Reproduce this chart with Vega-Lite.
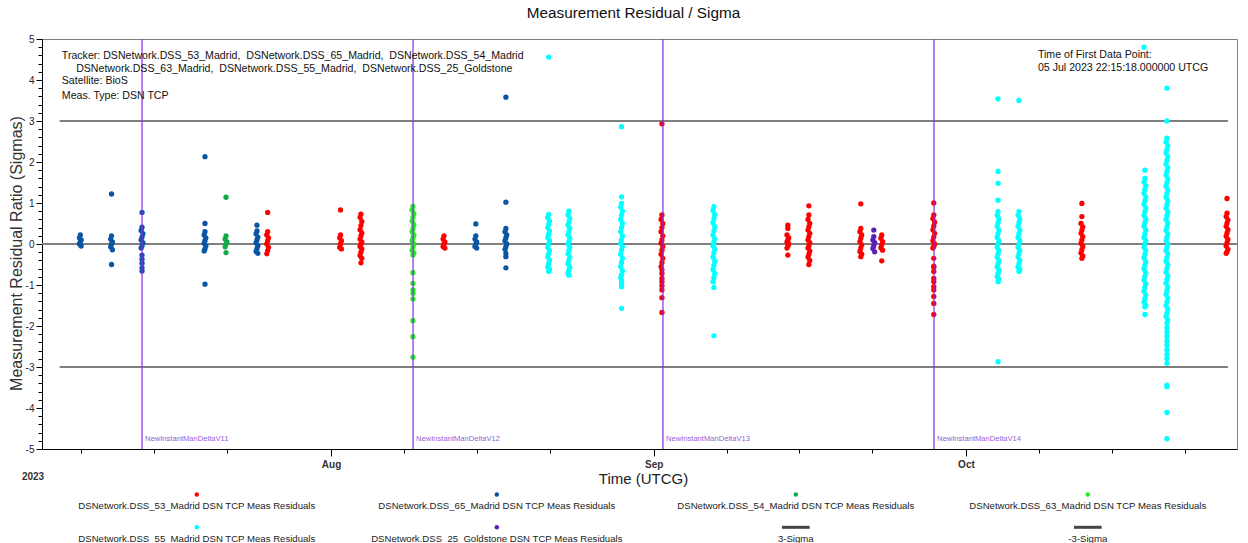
{
"$schema": "https://vega.github.io/schema/vega-lite/v6.json",
"width": 1195, "height": 410,
"autosize": {"type": "none"},
"padding": {"left": 42, "top": 39, "right": 11, "bottom": 94},
"background": "white",
"title": {"text": "Measurement Residual / Sigma", "fontSize": 15.3, "fontWeight": "normal", "color": "#111", "anchor": "middle", "frame": "group", "offset": 13, "dx": -6, "font": "Liberation Sans"},
"datasets": {
"man": [
{"name":"NewInstantManDeltaV11","time":"2023-07-13T20:10Z"},
{"name":"NewInstantManDeltaV12","time":"2023-08-08T21:05Z"},
{"name":"NewInstantManDeltaV13","time":"2023-09-01T21:20Z"},
{"name":"NewInstantManDeltaV14","time":"2023-09-27T22:20Z"}
],
"sigma": [
{"series":"3-Sigma","time":"2023-07-05T22:15:18Z","time2":"2023-10-26T04:00Z","value":3},
{"series":"-3-Sigma","time":"2023-07-05T22:15:18Z","time2":"2023-10-26T04:00Z","value":-3}
],
"pts": [
{"series":"DSS_65_Madrid","time":"2023-07-07T21:50Z","value":0.22},
{"series":"DSS_65_Madrid","time":"2023-07-07T19:50Z","value":0.15},
{"series":"DSS_65_Madrid","time":"2023-07-07T23:50Z","value":0.1},
{"series":"DSS_65_Madrid","time":"2023-07-07T21:50Z","value":0.05},
{"series":"DSS_65_Madrid","time":"2023-07-07T19:50Z","value":0},
{"series":"DSS_65_Madrid","time":"2023-07-07T23:50Z","value":-0.05},
{"series":"DSS_65_Madrid","time":"2023-07-10T21:50Z","value":1.22},
{"series":"DSS_65_Madrid","time":"2023-07-10T21:50Z","value":0.2},
{"series":"DSS_65_Madrid","time":"2023-07-10T19:50Z","value":0.12},
{"series":"DSS_65_Madrid","time":"2023-07-10T23:50Z","value":0.05},
{"series":"DSS_65_Madrid","time":"2023-07-10T21:50Z","value":0},
{"series":"DSS_65_Madrid","time":"2023-07-10T19:50Z","value":-0.07},
{"series":"DSS_65_Madrid","time":"2023-07-10T23:50Z","value":-0.14},
{"series":"DSS_65_Madrid","time":"2023-07-10T21:50Z","value":-0.5},
{"series":"DSS_65_Madrid","time":"2023-07-13T20:10Z","value":0.77},
{"series":"DSS_65_Madrid","time":"2023-07-13T20:10Z","value":0.41},
{"series":"DSS_65_Madrid","time":"2023-07-13T18:10Z","value":0.33},
{"series":"DSS_65_Madrid","time":"2023-07-13T22:10Z","value":0.25},
{"series":"DSS_65_Madrid","time":"2023-07-13T20:10Z","value":0.17},
{"series":"DSS_65_Madrid","time":"2023-07-13T18:10Z","value":0.1},
{"series":"DSS_65_Madrid","time":"2023-07-13T22:10Z","value":0.03},
{"series":"DSS_65_Madrid","time":"2023-07-13T20:10Z","value":-0.04},
{"series":"DSS_65_Madrid","time":"2023-07-13T18:10Z","value":-0.1},
{"series":"DSS_65_Madrid","time":"2023-07-13T20:10Z","value":-0.27},
{"series":"DSS_65_Madrid","time":"2023-07-13T20:10Z","value":-0.37},
{"series":"DSS_65_Madrid","time":"2023-07-13T20:10Z","value":-0.47},
{"series":"DSS_65_Madrid","time":"2023-07-13T20:10Z","value":-0.58},
{"series":"DSS_65_Madrid","time":"2023-07-13T20:10Z","value":-0.66},
{"series":"DSS_65_Madrid","time":"2023-07-19T21:20Z","value":2.13},
{"series":"DSS_65_Madrid","time":"2023-07-19T21:20Z","value":0.5},
{"series":"DSS_65_Madrid","time":"2023-07-19T21:20Z","value":0.3},
{"series":"DSS_65_Madrid","time":"2023-07-19T19:20Z","value":0.22},
{"series":"DSS_65_Madrid","time":"2023-07-19T23:20Z","value":0.15},
{"series":"DSS_65_Madrid","time":"2023-07-19T21:20Z","value":0.08},
{"series":"DSS_65_Madrid","time":"2023-07-19T19:20Z","value":0.02},
{"series":"DSS_65_Madrid","time":"2023-07-19T23:20Z","value":-0.05},
{"series":"DSS_65_Madrid","time":"2023-07-19T21:20Z","value":-0.12},
{"series":"DSS_65_Madrid","time":"2023-07-19T19:20Z","value":-0.17},
{"series":"DSS_65_Madrid","time":"2023-07-19T21:20Z","value":-0.98},
{"series":"DSS_54_Madrid","time":"2023-07-21T21:50Z","value":1.14},
{"series":"DSS_54_Madrid","time":"2023-07-21T21:50Z","value":0.2},
{"series":"DSS_54_Madrid","time":"2023-07-21T19:50Z","value":0.12},
{"series":"DSS_54_Madrid","time":"2023-07-21T23:50Z","value":0.05},
{"series":"DSS_54_Madrid","time":"2023-07-21T21:50Z","value":0},
{"series":"DSS_54_Madrid","time":"2023-07-21T19:50Z","value":-0.07},
{"series":"DSS_54_Madrid","time":"2023-07-21T21:50Z","value":-0.21},
{"series":"DSS_65_Madrid","time":"2023-07-24T21:10Z","value":0.46},
{"series":"DSS_65_Madrid","time":"2023-07-24T21:10Z","value":0.32},
{"series":"DSS_65_Madrid","time":"2023-07-24T19:10Z","value":0.25},
{"series":"DSS_65_Madrid","time":"2023-07-24T23:10Z","value":0.17},
{"series":"DSS_65_Madrid","time":"2023-07-24T21:10Z","value":0.1},
{"series":"DSS_65_Madrid","time":"2023-07-24T19:10Z","value":0.03},
{"series":"DSS_65_Madrid","time":"2023-07-24T23:10Z","value":-0.04},
{"series":"DSS_65_Madrid","time":"2023-07-24T21:10Z","value":-0.11},
{"series":"DSS_65_Madrid","time":"2023-07-24T19:10Z","value":-0.18},
{"series":"DSS_65_Madrid","time":"2023-07-24T23:10Z","value":-0.23},
{"series":"DSS_53_Madrid","time":"2023-07-25T21:50Z","value":0.77},
{"series":"DSS_53_Madrid","time":"2023-07-25T21:50Z","value":0.3},
{"series":"DSS_53_Madrid","time":"2023-07-25T19:50Z","value":0.22},
{"series":"DSS_53_Madrid","time":"2023-07-25T23:50Z","value":0.15},
{"series":"DSS_53_Madrid","time":"2023-07-25T21:50Z","value":0.08},
{"series":"DSS_53_Madrid","time":"2023-07-25T19:50Z","value":0},
{"series":"DSS_53_Madrid","time":"2023-07-25T23:50Z","value":-0.08},
{"series":"DSS_53_Madrid","time":"2023-07-25T21:50Z","value":-0.16},
{"series":"DSS_53_Madrid","time":"2023-07-25T19:50Z","value":-0.24},
{"series":"DSS_53_Madrid","time":"2023-08-01T21:50Z","value":0.83},
{"series":"DSS_53_Madrid","time":"2023-08-01T21:50Z","value":0.22},
{"series":"DSS_53_Madrid","time":"2023-08-01T19:50Z","value":0.15},
{"series":"DSS_53_Madrid","time":"2023-08-01T23:50Z","value":0.08},
{"series":"DSS_53_Madrid","time":"2023-08-01T21:50Z","value":0},
{"series":"DSS_53_Madrid","time":"2023-08-01T19:50Z","value":-0.08},
{"series":"DSS_53_Madrid","time":"2023-08-01T23:50Z","value":-0.12},
{"series":"DSS_53_Madrid","time":"2023-08-03T20:55Z","value":0.73},
{"series":"DSS_53_Madrid","time":"2023-08-03T18:55Z","value":0.65},
{"series":"DSS_53_Madrid","time":"2023-08-03T22:55Z","value":0.55},
{"series":"DSS_53_Madrid","time":"2023-08-03T20:55Z","value":0.45},
{"series":"DSS_53_Madrid","time":"2023-08-03T18:55Z","value":0.35},
{"series":"DSS_53_Madrid","time":"2023-08-03T22:55Z","value":0.27},
{"series":"DSS_53_Madrid","time":"2023-08-03T20:55Z","value":0.2},
{"series":"DSS_53_Madrid","time":"2023-08-03T18:55Z","value":0.12},
{"series":"DSS_53_Madrid","time":"2023-08-03T22:55Z","value":0.05},
{"series":"DSS_53_Madrid","time":"2023-08-03T20:55Z","value":0},
{"series":"DSS_53_Madrid","time":"2023-08-03T18:55Z","value":-0.06},
{"series":"DSS_53_Madrid","time":"2023-08-03T22:55Z","value":-0.12},
{"series":"DSS_53_Madrid","time":"2023-08-03T20:55Z","value":-0.2},
{"series":"DSS_53_Madrid","time":"2023-08-03T18:55Z","value":-0.28},
{"series":"DSS_53_Madrid","time":"2023-08-03T22:55Z","value":-0.35},
{"series":"DSS_53_Madrid","time":"2023-08-03T20:55Z","value":-0.46},
{"series":"DSS_63_Madrid","time":"2023-08-08T20:55Z","value":0.92},
{"series":"DSS_63_Madrid","time":"2023-08-08T18:55Z","value":0.83},
{"series":"DSS_63_Madrid","time":"2023-08-08T22:55Z","value":0.74},
{"series":"DSS_63_Madrid","time":"2023-08-08T20:55Z","value":0.65},
{"series":"DSS_63_Madrid","time":"2023-08-08T18:55Z","value":0.56},
{"series":"DSS_63_Madrid","time":"2023-08-08T22:55Z","value":0.47},
{"series":"DSS_63_Madrid","time":"2023-08-08T20:55Z","value":0.38},
{"series":"DSS_63_Madrid","time":"2023-08-08T18:55Z","value":0.3},
{"series":"DSS_63_Madrid","time":"2023-08-08T22:55Z","value":0.22},
{"series":"DSS_63_Madrid","time":"2023-08-08T20:55Z","value":0.15},
{"series":"DSS_63_Madrid","time":"2023-08-08T18:55Z","value":0.08},
{"series":"DSS_63_Madrid","time":"2023-08-08T22:55Z","value":0},
{"series":"DSS_63_Madrid","time":"2023-08-08T20:55Z","value":-0.07},
{"series":"DSS_63_Madrid","time":"2023-08-08T18:55Z","value":-0.15},
{"series":"DSS_63_Madrid","time":"2023-08-08T22:55Z","value":-0.22},
{"series":"DSS_63_Madrid","time":"2023-08-08T20:55Z","value":-0.27},
{"series":"DSS_63_Madrid","time":"2023-08-08T20:55Z","value":-0.7},
{"series":"DSS_63_Madrid","time":"2023-08-08T20:55Z","value":-0.96},
{"series":"DSS_63_Madrid","time":"2023-08-08T20:55Z","value":-1.12},
{"series":"DSS_63_Madrid","time":"2023-08-08T20:55Z","value":-1.2},
{"series":"DSS_63_Madrid","time":"2023-08-08T20:55Z","value":-1.34},
{"series":"DSS_63_Madrid","time":"2023-08-08T20:55Z","value":-1.87},
{"series":"DSS_63_Madrid","time":"2023-08-08T20:55Z","value":-2.26},
{"series":"DSS_63_Madrid","time":"2023-08-08T20:55Z","value":-2.76},
{"series":"DSS_53_Madrid","time":"2023-08-11T20:25Z","value":0.2},
{"series":"DSS_53_Madrid","time":"2023-08-11T18:25Z","value":0.12},
{"series":"DSS_53_Madrid","time":"2023-08-11T22:25Z","value":0.05},
{"series":"DSS_53_Madrid","time":"2023-08-11T20:25Z","value":0},
{"series":"DSS_53_Madrid","time":"2023-08-11T18:25Z","value":-0.06},
{"series":"DSS_53_Madrid","time":"2023-08-11T22:25Z","value":-0.1},
{"series":"DSS_65_Madrid","time":"2023-08-14T21:50Z","value":0.49},
{"series":"DSS_65_Madrid","time":"2023-08-14T21:50Z","value":0.2},
{"series":"DSS_65_Madrid","time":"2023-08-14T19:50Z","value":0.12},
{"series":"DSS_65_Madrid","time":"2023-08-14T23:50Z","value":0.05},
{"series":"DSS_65_Madrid","time":"2023-08-14T21:50Z","value":0},
{"series":"DSS_65_Madrid","time":"2023-08-14T19:50Z","value":-0.06},
{"series":"DSS_65_Madrid","time":"2023-08-14T23:50Z","value":-0.1},
{"series":"DSS_65_Madrid","time":"2023-08-17T19:10Z","value":3.58},
{"series":"DSS_65_Madrid","time":"2023-08-17T19:10Z","value":1.02},
{"series":"DSS_65_Madrid","time":"2023-08-17T19:10Z","value":0.38},
{"series":"DSS_65_Madrid","time":"2023-08-17T17:10Z","value":0.3},
{"series":"DSS_65_Madrid","time":"2023-08-17T21:10Z","value":0.22},
{"series":"DSS_65_Madrid","time":"2023-08-17T19:10Z","value":0.15},
{"series":"DSS_65_Madrid","time":"2023-08-17T17:10Z","value":0.08},
{"series":"DSS_65_Madrid","time":"2023-08-17T21:10Z","value":0},
{"series":"DSS_65_Madrid","time":"2023-08-17T19:10Z","value":-0.07},
{"series":"DSS_65_Madrid","time":"2023-08-17T17:10Z","value":-0.13},
{"series":"DSS_65_Madrid","time":"2023-08-17T19:10Z","value":-0.23},
{"series":"DSS_65_Madrid","time":"2023-08-17T19:10Z","value":-0.31},
{"series":"DSS_65_Madrid","time":"2023-08-17T19:10Z","value":-0.58},
{"series":"DSS_55_Madrid","time":"2023-08-21T21:50Z","value":4.56},
{"series":"DSS_55_Madrid","time":"2023-08-21T21:50Z","value":0.72},
{"series":"DSS_55_Madrid","time":"2023-08-21T19:50Z","value":0.64},
{"series":"DSS_55_Madrid","time":"2023-08-21T23:50Z","value":0.56},
{"series":"DSS_55_Madrid","time":"2023-08-21T21:50Z","value":0.48},
{"series":"DSS_55_Madrid","time":"2023-08-21T19:50Z","value":0.4},
{"series":"DSS_55_Madrid","time":"2023-08-21T23:50Z","value":0.32},
{"series":"DSS_55_Madrid","time":"2023-08-21T21:50Z","value":0.24},
{"series":"DSS_55_Madrid","time":"2023-08-21T19:50Z","value":0.16},
{"series":"DSS_55_Madrid","time":"2023-08-21T23:50Z","value":0.08},
{"series":"DSS_55_Madrid","time":"2023-08-21T21:50Z","value":0},
{"series":"DSS_55_Madrid","time":"2023-08-21T19:50Z","value":-0.08},
{"series":"DSS_55_Madrid","time":"2023-08-21T23:50Z","value":-0.16},
{"series":"DSS_55_Madrid","time":"2023-08-21T21:50Z","value":-0.24},
{"series":"DSS_55_Madrid","time":"2023-08-21T19:50Z","value":-0.32},
{"series":"DSS_55_Madrid","time":"2023-08-21T23:50Z","value":-0.4},
{"series":"DSS_55_Madrid","time":"2023-08-21T21:50Z","value":-0.48},
{"series":"DSS_55_Madrid","time":"2023-08-21T19:50Z","value":-0.56},
{"series":"DSS_55_Madrid","time":"2023-08-21T23:50Z","value":-0.62},
{"series":"DSS_55_Madrid","time":"2023-08-21T21:50Z","value":-0.67},
{"series":"DSS_55_Madrid","time":"2023-08-23T20:25Z","value":0.8},
{"series":"DSS_55_Madrid","time":"2023-08-23T18:25Z","value":0.71},
{"series":"DSS_55_Madrid","time":"2023-08-23T22:25Z","value":0.62},
{"series":"DSS_55_Madrid","time":"2023-08-23T20:25Z","value":0.54},
{"series":"DSS_55_Madrid","time":"2023-08-23T18:25Z","value":0.46},
{"series":"DSS_55_Madrid","time":"2023-08-23T22:25Z","value":0.38},
{"series":"DSS_55_Madrid","time":"2023-08-23T20:25Z","value":0.3},
{"series":"DSS_55_Madrid","time":"2023-08-23T18:25Z","value":0.22},
{"series":"DSS_55_Madrid","time":"2023-08-23T22:25Z","value":0.14},
{"series":"DSS_55_Madrid","time":"2023-08-23T20:25Z","value":0.06},
{"series":"DSS_55_Madrid","time":"2023-08-23T18:25Z","value":0},
{"series":"DSS_55_Madrid","time":"2023-08-23T22:25Z","value":-0.08},
{"series":"DSS_55_Madrid","time":"2023-08-23T20:25Z","value":-0.16},
{"series":"DSS_55_Madrid","time":"2023-08-23T18:25Z","value":-0.24},
{"series":"DSS_55_Madrid","time":"2023-08-23T22:25Z","value":-0.32},
{"series":"DSS_55_Madrid","time":"2023-08-23T20:25Z","value":-0.4},
{"series":"DSS_55_Madrid","time":"2023-08-23T18:25Z","value":-0.48},
{"series":"DSS_55_Madrid","time":"2023-08-23T22:25Z","value":-0.56},
{"series":"DSS_55_Madrid","time":"2023-08-23T20:25Z","value":-0.64},
{"series":"DSS_55_Madrid","time":"2023-08-23T18:25Z","value":-0.72},
{"series":"DSS_55_Madrid","time":"2023-08-23T20:25Z","value":-0.76},
{"series":"DSS_55_Madrid","time":"2023-08-28T21:50Z","value":2.86},
{"series":"DSS_55_Madrid","time":"2023-08-28T21:50Z","value":1.15},
{"series":"DSS_55_Madrid","time":"2023-08-28T21:50Z","value":0.99},
{"series":"DSS_55_Madrid","time":"2023-08-28T19:50Z","value":0.9},
{"series":"DSS_55_Madrid","time":"2023-08-28T23:50Z","value":0.8},
{"series":"DSS_55_Madrid","time":"2023-08-28T21:50Z","value":0.7},
{"series":"DSS_55_Madrid","time":"2023-08-28T19:50Z","value":0.6},
{"series":"DSS_55_Madrid","time":"2023-08-28T23:50Z","value":0.5},
{"series":"DSS_55_Madrid","time":"2023-08-28T21:50Z","value":0.4},
{"series":"DSS_55_Madrid","time":"2023-08-28T19:50Z","value":0.3},
{"series":"DSS_55_Madrid","time":"2023-08-28T23:50Z","value":0.2},
{"series":"DSS_55_Madrid","time":"2023-08-28T21:50Z","value":0.1},
{"series":"DSS_55_Madrid","time":"2023-08-28T19:50Z","value":0.02},
{"series":"DSS_55_Madrid","time":"2023-08-28T23:50Z","value":-0.06},
{"series":"DSS_55_Madrid","time":"2023-08-28T21:50Z","value":-0.15},
{"series":"DSS_55_Madrid","time":"2023-08-28T19:50Z","value":-0.25},
{"series":"DSS_55_Madrid","time":"2023-08-28T23:50Z","value":-0.35},
{"series":"DSS_55_Madrid","time":"2023-08-28T21:50Z","value":-0.45},
{"series":"DSS_55_Madrid","time":"2023-08-28T19:50Z","value":-0.55},
{"series":"DSS_55_Madrid","time":"2023-08-28T23:50Z","value":-0.65},
{"series":"DSS_55_Madrid","time":"2023-08-28T21:50Z","value":-0.75},
{"series":"DSS_55_Madrid","time":"2023-08-28T19:50Z","value":-0.82},
{"series":"DSS_55_Madrid","time":"2023-08-28T21:50Z","value":-0.88},
{"series":"DSS_55_Madrid","time":"2023-08-28T21:50Z","value":-0.95},
{"series":"DSS_55_Madrid","time":"2023-08-28T21:50Z","value":-1.04},
{"series":"DSS_55_Madrid","time":"2023-08-28T21:50Z","value":-1.57},
{"series":"DSS_53_Madrid","time":"2023-09-01T19:00Z","value":2.93},
{"series":"DSS_53_Madrid","time":"2023-09-01T19:00Z","value":0.71},
{"series":"DSS_53_Madrid","time":"2023-09-01T17:00Z","value":0.6},
{"series":"DSS_53_Madrid","time":"2023-09-01T21:00Z","value":0.5},
{"series":"DSS_53_Madrid","time":"2023-09-01T19:00Z","value":0.4},
{"series":"DSS_53_Madrid","time":"2023-09-01T17:00Z","value":0.3},
{"series":"DSS_53_Madrid","time":"2023-09-01T21:00Z","value":0.2},
{"series":"DSS_53_Madrid","time":"2023-09-01T19:00Z","value":0.1},
{"series":"DSS_53_Madrid","time":"2023-09-01T17:00Z","value":0.02},
{"series":"DSS_53_Madrid","time":"2023-09-01T21:00Z","value":-0.06},
{"series":"DSS_53_Madrid","time":"2023-09-01T19:00Z","value":-0.15},
{"series":"DSS_53_Madrid","time":"2023-09-01T17:00Z","value":-0.25},
{"series":"DSS_53_Madrid","time":"2023-09-01T21:00Z","value":-0.35},
{"series":"DSS_53_Madrid","time":"2023-09-01T19:00Z","value":-0.45},
{"series":"DSS_53_Madrid","time":"2023-09-01T17:00Z","value":-0.55},
{"series":"DSS_53_Madrid","time":"2023-09-01T19:00Z","value":-0.63},
{"series":"DSS_53_Madrid","time":"2023-09-01T19:00Z","value":-0.72},
{"series":"DSS_53_Madrid","time":"2023-09-01T19:00Z","value":-0.84},
{"series":"DSS_53_Madrid","time":"2023-09-01T19:00Z","value":-0.92},
{"series":"DSS_53_Madrid","time":"2023-09-01T19:00Z","value":-1.02},
{"series":"DSS_53_Madrid","time":"2023-09-01T19:00Z","value":-1.12},
{"series":"DSS_53_Madrid","time":"2023-09-01T19:00Z","value":-1.31},
{"series":"DSS_53_Madrid","time":"2023-09-01T19:00Z","value":-1.67},
{"series":"DSS_55_Madrid","time":"2023-09-06T18:45Z","value":0.91},
{"series":"DSS_55_Madrid","time":"2023-09-06T16:45Z","value":0.82},
{"series":"DSS_55_Madrid","time":"2023-09-06T20:45Z","value":0.72},
{"series":"DSS_55_Madrid","time":"2023-09-06T18:45Z","value":0.62},
{"series":"DSS_55_Madrid","time":"2023-09-06T16:45Z","value":0.52},
{"series":"DSS_55_Madrid","time":"2023-09-06T20:45Z","value":0.42},
{"series":"DSS_55_Madrid","time":"2023-09-06T18:45Z","value":0.32},
{"series":"DSS_55_Madrid","time":"2023-09-06T16:45Z","value":0.22},
{"series":"DSS_55_Madrid","time":"2023-09-06T20:45Z","value":0.12},
{"series":"DSS_55_Madrid","time":"2023-09-06T18:45Z","value":0.04},
{"series":"DSS_55_Madrid","time":"2023-09-06T16:45Z","value":-0.04},
{"series":"DSS_55_Madrid","time":"2023-09-06T20:45Z","value":-0.12},
{"series":"DSS_55_Madrid","time":"2023-09-06T18:45Z","value":-0.22},
{"series":"DSS_55_Madrid","time":"2023-09-06T16:45Z","value":-0.32},
{"series":"DSS_55_Madrid","time":"2023-09-06T20:45Z","value":-0.42},
{"series":"DSS_55_Madrid","time":"2023-09-06T18:45Z","value":-0.52},
{"series":"DSS_55_Madrid","time":"2023-09-06T16:45Z","value":-0.62},
{"series":"DSS_55_Madrid","time":"2023-09-06T20:45Z","value":-0.72},
{"series":"DSS_55_Madrid","time":"2023-09-06T18:45Z","value":-0.82},
{"series":"DSS_55_Madrid","time":"2023-09-06T16:45Z","value":-0.92},
{"series":"DSS_55_Madrid","time":"2023-09-06T18:45Z","value":-1.06},
{"series":"DSS_55_Madrid","time":"2023-09-06T18:45Z","value":-2.24},
{"series":"DSS_53_Madrid","time":"2023-09-13T21:20Z","value":0.46},
{"series":"DSS_53_Madrid","time":"2023-09-13T21:20Z","value":0.38},
{"series":"DSS_53_Madrid","time":"2023-09-13T19:20Z","value":0.22},
{"series":"DSS_53_Madrid","time":"2023-09-13T23:20Z","value":0.15},
{"series":"DSS_53_Madrid","time":"2023-09-13T21:20Z","value":0.1},
{"series":"DSS_53_Madrid","time":"2023-09-13T19:20Z","value":0.05},
{"series":"DSS_53_Madrid","time":"2023-09-13T23:20Z","value":0},
{"series":"DSS_53_Madrid","time":"2023-09-13T21:20Z","value":-0.05},
{"series":"DSS_53_Madrid","time":"2023-09-13T19:20Z","value":-0.1},
{"series":"DSS_53_Madrid","time":"2023-09-13T21:20Z","value":-0.27},
{"series":"DSS_53_Madrid","time":"2023-09-15T21:50Z","value":0.93},
{"series":"DSS_53_Madrid","time":"2023-09-15T21:50Z","value":0.71},
{"series":"DSS_53_Madrid","time":"2023-09-15T19:50Z","value":0.6},
{"series":"DSS_53_Madrid","time":"2023-09-15T23:50Z","value":0.5},
{"series":"DSS_53_Madrid","time":"2023-09-15T21:50Z","value":0.42},
{"series":"DSS_53_Madrid","time":"2023-09-15T19:50Z","value":0.34},
{"series":"DSS_53_Madrid","time":"2023-09-15T23:50Z","value":0.26},
{"series":"DSS_53_Madrid","time":"2023-09-15T21:50Z","value":0.18},
{"series":"DSS_53_Madrid","time":"2023-09-15T19:50Z","value":0.1},
{"series":"DSS_53_Madrid","time":"2023-09-15T23:50Z","value":0.03},
{"series":"DSS_53_Madrid","time":"2023-09-15T21:50Z","value":-0.04},
{"series":"DSS_53_Madrid","time":"2023-09-15T19:50Z","value":-0.1},
{"series":"DSS_53_Madrid","time":"2023-09-15T23:50Z","value":-0.17},
{"series":"DSS_53_Madrid","time":"2023-09-15T21:50Z","value":-0.25},
{"series":"DSS_53_Madrid","time":"2023-09-15T19:50Z","value":-0.32},
{"series":"DSS_53_Madrid","time":"2023-09-15T23:50Z","value":-0.4},
{"series":"DSS_53_Madrid","time":"2023-09-15T21:50Z","value":-0.5},
{"series":"DSS_53_Madrid","time":"2023-09-20T21:35Z","value":0.98},
{"series":"DSS_53_Madrid","time":"2023-09-20T21:35Z","value":0.38},
{"series":"DSS_53_Madrid","time":"2023-09-20T19:35Z","value":0.3},
{"series":"DSS_53_Madrid","time":"2023-09-20T23:35Z","value":0.22},
{"series":"DSS_53_Madrid","time":"2023-09-20T21:35Z","value":0.14},
{"series":"DSS_53_Madrid","time":"2023-09-20T19:35Z","value":0.06},
{"series":"DSS_53_Madrid","time":"2023-09-20T23:35Z","value":-0.02},
{"series":"DSS_53_Madrid","time":"2023-09-20T21:35Z","value":-0.1},
{"series":"DSS_53_Madrid","time":"2023-09-20T19:35Z","value":-0.18},
{"series":"DSS_53_Madrid","time":"2023-09-20T23:35Z","value":-0.25},
{"series":"DSS_53_Madrid","time":"2023-09-20T21:35Z","value":-0.31},
{"series":"DSS_25_Goldstone","time":"2023-09-22T03:30Z","value":0.34},
{"series":"DSS_25_Goldstone","time":"2023-09-22T03:30Z","value":0.18},
{"series":"DSS_25_Goldstone","time":"2023-09-22T01:30Z","value":0.1},
{"series":"DSS_25_Goldstone","time":"2023-09-22T05:30Z","value":0.03},
{"series":"DSS_25_Goldstone","time":"2023-09-22T03:30Z","value":-0.04},
{"series":"DSS_25_Goldstone","time":"2023-09-22T01:30Z","value":-0.11},
{"series":"DSS_25_Goldstone","time":"2023-09-22T05:30Z","value":-0.19},
{"series":"DSS_53_Madrid","time":"2023-09-22T21:50Z","value":0.22},
{"series":"DSS_53_Madrid","time":"2023-09-22T19:50Z","value":0.14},
{"series":"DSS_53_Madrid","time":"2023-09-22T23:50Z","value":0.06},
{"series":"DSS_53_Madrid","time":"2023-09-22T21:50Z","value":-0.02},
{"series":"DSS_53_Madrid","time":"2023-09-22T19:50Z","value":-0.09},
{"series":"DSS_53_Madrid","time":"2023-09-22T23:50Z","value":-0.15},
{"series":"DSS_53_Madrid","time":"2023-09-22T21:50Z","value":-0.41},
{"series":"DSS_53_Madrid","time":"2023-09-27T21:50Z","value":1.0},
{"series":"DSS_53_Madrid","time":"2023-09-27T21:50Z","value":0.71},
{"series":"DSS_53_Madrid","time":"2023-09-27T19:50Z","value":0.62},
{"series":"DSS_53_Madrid","time":"2023-09-27T23:50Z","value":0.53},
{"series":"DSS_53_Madrid","time":"2023-09-27T21:50Z","value":0.44},
{"series":"DSS_53_Madrid","time":"2023-09-27T19:50Z","value":0.35},
{"series":"DSS_53_Madrid","time":"2023-09-27T23:50Z","value":0.26},
{"series":"DSS_53_Madrid","time":"2023-09-27T21:50Z","value":0.17},
{"series":"DSS_53_Madrid","time":"2023-09-27T19:50Z","value":0.08},
{"series":"DSS_53_Madrid","time":"2023-09-27T23:50Z","value":0},
{"series":"DSS_53_Madrid","time":"2023-09-27T21:50Z","value":-0.06},
{"series":"DSS_53_Madrid","time":"2023-09-27T19:50Z","value":-0.1},
{"series":"DSS_53_Madrid","time":"2023-09-27T21:50Z","value":-0.35},
{"series":"DSS_53_Madrid","time":"2023-09-27T21:50Z","value":-0.54},
{"series":"DSS_53_Madrid","time":"2023-09-27T21:50Z","value":-0.57},
{"series":"DSS_53_Madrid","time":"2023-09-27T21:50Z","value":-0.67},
{"series":"DSS_53_Madrid","time":"2023-09-27T21:50Z","value":-0.84},
{"series":"DSS_53_Madrid","time":"2023-09-27T21:50Z","value":-0.92},
{"series":"DSS_53_Madrid","time":"2023-09-27T21:50Z","value":-1.04},
{"series":"DSS_53_Madrid","time":"2023-09-27T21:50Z","value":-1.12},
{"series":"DSS_53_Madrid","time":"2023-09-27T21:50Z","value":-1.28},
{"series":"DSS_53_Madrid","time":"2023-09-27T21:50Z","value":-1.45},
{"series":"DSS_53_Madrid","time":"2023-09-27T21:50Z","value":-1.72},
{"series":"DSS_55_Madrid","time":"2023-10-04T02:00Z","value":3.54},
{"series":"DSS_55_Madrid","time":"2023-10-04T02:00Z","value":1.77},
{"series":"DSS_55_Madrid","time":"2023-10-04T02:00Z","value":1.48},
{"series":"DSS_55_Madrid","time":"2023-10-04T02:00Z","value":1.07},
{"series":"DSS_55_Madrid","time":"2023-10-04T02:00Z","value":0.79},
{"series":"DSS_55_Madrid","time":"2023-10-04T00:00Z","value":0.7},
{"series":"DSS_55_Madrid","time":"2023-10-04T04:00Z","value":0.61},
{"series":"DSS_55_Madrid","time":"2023-10-04T02:00Z","value":0.52},
{"series":"DSS_55_Madrid","time":"2023-10-04T00:00Z","value":0.43},
{"series":"DSS_55_Madrid","time":"2023-10-04T04:00Z","value":0.34},
{"series":"DSS_55_Madrid","time":"2023-10-04T02:00Z","value":0.25},
{"series":"DSS_55_Madrid","time":"2023-10-04T00:00Z","value":0.16},
{"series":"DSS_55_Madrid","time":"2023-10-04T04:00Z","value":0.08},
{"series":"DSS_55_Madrid","time":"2023-10-04T02:00Z","value":0},
{"series":"DSS_55_Madrid","time":"2023-10-04T00:00Z","value":-0.08},
{"series":"DSS_55_Madrid","time":"2023-10-04T04:00Z","value":-0.16},
{"series":"DSS_55_Madrid","time":"2023-10-04T02:00Z","value":-0.24},
{"series":"DSS_55_Madrid","time":"2023-10-04T00:00Z","value":-0.32},
{"series":"DSS_55_Madrid","time":"2023-10-04T04:00Z","value":-0.4},
{"series":"DSS_55_Madrid","time":"2023-10-04T02:00Z","value":-0.48},
{"series":"DSS_55_Madrid","time":"2023-10-04T00:00Z","value":-0.56},
{"series":"DSS_55_Madrid","time":"2023-10-04T04:00Z","value":-0.64},
{"series":"DSS_55_Madrid","time":"2023-10-04T02:00Z","value":-0.72},
{"series":"DSS_55_Madrid","time":"2023-10-04T00:00Z","value":-0.8},
{"series":"DSS_55_Madrid","time":"2023-10-04T04:00Z","value":-0.86},
{"series":"DSS_55_Madrid","time":"2023-10-04T02:00Z","value":-0.92},
{"series":"DSS_55_Madrid","time":"2023-10-04T02:00Z","value":-2.87},
{"series":"DSS_55_Madrid","time":"2023-10-06T02:10Z","value":3.5},
{"series":"DSS_55_Madrid","time":"2023-10-06T02:10Z","value":0.79},
{"series":"DSS_55_Madrid","time":"2023-10-06T00:10Z","value":0.7},
{"series":"DSS_55_Madrid","time":"2023-10-06T04:10Z","value":0.61},
{"series":"DSS_55_Madrid","time":"2023-10-06T02:10Z","value":0.52},
{"series":"DSS_55_Madrid","time":"2023-10-06T00:10Z","value":0.43},
{"series":"DSS_55_Madrid","time":"2023-10-06T04:10Z","value":0.34},
{"series":"DSS_55_Madrid","time":"2023-10-06T02:10Z","value":0.25},
{"series":"DSS_55_Madrid","time":"2023-10-06T00:10Z","value":0.16},
{"series":"DSS_55_Madrid","time":"2023-10-06T04:10Z","value":0.08},
{"series":"DSS_55_Madrid","time":"2023-10-06T02:10Z","value":0},
{"series":"DSS_55_Madrid","time":"2023-10-06T00:10Z","value":-0.08},
{"series":"DSS_55_Madrid","time":"2023-10-06T04:10Z","value":-0.16},
{"series":"DSS_55_Madrid","time":"2023-10-06T02:10Z","value":-0.24},
{"series":"DSS_55_Madrid","time":"2023-10-06T00:10Z","value":-0.32},
{"series":"DSS_55_Madrid","time":"2023-10-06T04:10Z","value":-0.4},
{"series":"DSS_55_Madrid","time":"2023-10-06T02:10Z","value":-0.48},
{"series":"DSS_55_Madrid","time":"2023-10-06T00:10Z","value":-0.56},
{"series":"DSS_55_Madrid","time":"2023-10-06T04:10Z","value":-0.62},
{"series":"DSS_55_Madrid","time":"2023-10-06T02:10Z","value":-0.67},
{"series":"DSS_53_Madrid","time":"2023-10-12T03:20Z","value":0.99},
{"series":"DSS_53_Madrid","time":"2023-10-12T03:20Z","value":0.67},
{"series":"DSS_53_Madrid","time":"2023-10-12T01:20Z","value":0.5},
{"series":"DSS_53_Madrid","time":"2023-10-12T05:20Z","value":0.42},
{"series":"DSS_53_Madrid","time":"2023-10-12T03:20Z","value":0.34},
{"series":"DSS_53_Madrid","time":"2023-10-12T01:20Z","value":0.26},
{"series":"DSS_53_Madrid","time":"2023-10-12T05:20Z","value":0.18},
{"series":"DSS_53_Madrid","time":"2023-10-12T03:20Z","value":0.1},
{"series":"DSS_53_Madrid","time":"2023-10-12T01:20Z","value":0.02},
{"series":"DSS_53_Madrid","time":"2023-10-12T05:20Z","value":-0.06},
{"series":"DSS_53_Madrid","time":"2023-10-12T03:20Z","value":-0.14},
{"series":"DSS_53_Madrid","time":"2023-10-12T01:20Z","value":-0.22},
{"series":"DSS_53_Madrid","time":"2023-10-12T05:20Z","value":-0.29},
{"series":"DSS_53_Madrid","time":"2023-10-12T03:20Z","value":-0.35},
{"series":"DSS_55_Madrid","time":"2023-10-18T02:35Z","value":4.8},
{"series":"DSS_55_Madrid","time":"2023-10-18T04:35Z","value":1.8},
{"series":"DSS_55_Madrid","time":"2023-10-18T04:35Z","value":1.6},
{"series":"DSS_55_Madrid","time":"2023-10-18T02:35Z","value":1.51},
{"series":"DSS_55_Madrid","time":"2023-10-18T06:35Z","value":1.42},
{"series":"DSS_55_Madrid","time":"2023-10-18T04:35Z","value":1.33},
{"series":"DSS_55_Madrid","time":"2023-10-18T02:35Z","value":1.24},
{"series":"DSS_55_Madrid","time":"2023-10-18T06:35Z","value":1.15},
{"series":"DSS_55_Madrid","time":"2023-10-18T04:35Z","value":1.06},
{"series":"DSS_55_Madrid","time":"2023-10-18T02:35Z","value":0.97},
{"series":"DSS_55_Madrid","time":"2023-10-18T06:35Z","value":0.88},
{"series":"DSS_55_Madrid","time":"2023-10-18T04:35Z","value":0.79},
{"series":"DSS_55_Madrid","time":"2023-10-18T02:35Z","value":0.7},
{"series":"DSS_55_Madrid","time":"2023-10-18T06:35Z","value":0.61},
{"series":"DSS_55_Madrid","time":"2023-10-18T04:35Z","value":0.52},
{"series":"DSS_55_Madrid","time":"2023-10-18T02:35Z","value":0.43},
{"series":"DSS_55_Madrid","time":"2023-10-18T06:35Z","value":0.34},
{"series":"DSS_55_Madrid","time":"2023-10-18T04:35Z","value":0.25},
{"series":"DSS_55_Madrid","time":"2023-10-18T02:35Z","value":0.16},
{"series":"DSS_55_Madrid","time":"2023-10-18T06:35Z","value":0.08},
{"series":"DSS_55_Madrid","time":"2023-10-18T04:35Z","value":0},
{"series":"DSS_55_Madrid","time":"2023-10-18T02:35Z","value":-0.08},
{"series":"DSS_55_Madrid","time":"2023-10-18T06:35Z","value":-0.16},
{"series":"DSS_55_Madrid","time":"2023-10-18T04:35Z","value":-0.25},
{"series":"DSS_55_Madrid","time":"2023-10-18T02:35Z","value":-0.34},
{"series":"DSS_55_Madrid","time":"2023-10-18T06:35Z","value":-0.43},
{"series":"DSS_55_Madrid","time":"2023-10-18T04:35Z","value":-0.52},
{"series":"DSS_55_Madrid","time":"2023-10-18T02:35Z","value":-0.61},
{"series":"DSS_55_Madrid","time":"2023-10-18T06:35Z","value":-0.7},
{"series":"DSS_55_Madrid","time":"2023-10-18T04:35Z","value":-0.79},
{"series":"DSS_55_Madrid","time":"2023-10-18T02:35Z","value":-0.88},
{"series":"DSS_55_Madrid","time":"2023-10-18T06:35Z","value":-0.97},
{"series":"DSS_55_Madrid","time":"2023-10-18T04:35Z","value":-1.06},
{"series":"DSS_55_Madrid","time":"2023-10-18T02:35Z","value":-1.15},
{"series":"DSS_55_Madrid","time":"2023-10-18T06:35Z","value":-1.24},
{"series":"DSS_55_Madrid","time":"2023-10-18T04:35Z","value":-1.33},
{"series":"DSS_55_Madrid","time":"2023-10-18T02:35Z","value":-1.42},
{"series":"DSS_55_Madrid","time":"2023-10-18T06:35Z","value":-1.5},
{"series":"DSS_55_Madrid","time":"2023-10-18T04:35Z","value":-1.53},
{"series":"DSS_55_Madrid","time":"2023-10-18T04:35Z","value":-1.72},
{"series":"DSS_55_Madrid","time":"2023-10-20T07:25Z","value":3.8},
{"series":"DSS_55_Madrid","time":"2023-10-20T07:25Z","value":3.0},
{"series":"DSS_55_Madrid","time":"2023-10-20T07:25Z","value":2.58},
{"series":"DSS_55_Madrid","time":"2023-10-20T05:25Z","value":2.49},
{"series":"DSS_55_Madrid","time":"2023-10-20T09:25Z","value":2.4},
{"series":"DSS_55_Madrid","time":"2023-10-20T07:25Z","value":2.31},
{"series":"DSS_55_Madrid","time":"2023-10-20T05:25Z","value":2.22},
{"series":"DSS_55_Madrid","time":"2023-10-20T09:25Z","value":2.13},
{"series":"DSS_55_Madrid","time":"2023-10-20T07:25Z","value":2.04},
{"series":"DSS_55_Madrid","time":"2023-10-20T05:25Z","value":1.95},
{"series":"DSS_55_Madrid","time":"2023-10-20T09:25Z","value":1.86},
{"series":"DSS_55_Madrid","time":"2023-10-20T07:25Z","value":1.77},
{"series":"DSS_55_Madrid","time":"2023-10-20T05:25Z","value":1.68},
{"series":"DSS_55_Madrid","time":"2023-10-20T09:25Z","value":1.59},
{"series":"DSS_55_Madrid","time":"2023-10-20T07:25Z","value":1.5},
{"series":"DSS_55_Madrid","time":"2023-10-20T05:25Z","value":1.41},
{"series":"DSS_55_Madrid","time":"2023-10-20T09:25Z","value":1.32},
{"series":"DSS_55_Madrid","time":"2023-10-20T07:25Z","value":1.23},
{"series":"DSS_55_Madrid","time":"2023-10-20T05:25Z","value":1.14},
{"series":"DSS_55_Madrid","time":"2023-10-20T09:25Z","value":1.05},
{"series":"DSS_55_Madrid","time":"2023-10-20T07:25Z","value":0.96},
{"series":"DSS_55_Madrid","time":"2023-10-20T05:25Z","value":0.87},
{"series":"DSS_55_Madrid","time":"2023-10-20T09:25Z","value":0.78},
{"series":"DSS_55_Madrid","time":"2023-10-20T07:25Z","value":0.69},
{"series":"DSS_55_Madrid","time":"2023-10-20T05:25Z","value":0.6},
{"series":"DSS_55_Madrid","time":"2023-10-20T09:25Z","value":0.51},
{"series":"DSS_55_Madrid","time":"2023-10-20T07:25Z","value":0.42},
{"series":"DSS_55_Madrid","time":"2023-10-20T05:25Z","value":0.33},
{"series":"DSS_55_Madrid","time":"2023-10-20T09:25Z","value":0.24},
{"series":"DSS_55_Madrid","time":"2023-10-20T07:25Z","value":0.16},
{"series":"DSS_55_Madrid","time":"2023-10-20T05:25Z","value":0.08},
{"series":"DSS_55_Madrid","time":"2023-10-20T09:25Z","value":0},
{"series":"DSS_55_Madrid","time":"2023-10-20T07:25Z","value":-0.08},
{"series":"DSS_55_Madrid","time":"2023-10-20T05:25Z","value":-0.16},
{"series":"DSS_55_Madrid","time":"2023-10-20T09:25Z","value":-0.24},
{"series":"DSS_55_Madrid","time":"2023-10-20T07:25Z","value":-0.33},
{"series":"DSS_55_Madrid","time":"2023-10-20T05:25Z","value":-0.42},
{"series":"DSS_55_Madrid","time":"2023-10-20T09:25Z","value":-0.51},
{"series":"DSS_55_Madrid","time":"2023-10-20T07:25Z","value":-0.6},
{"series":"DSS_55_Madrid","time":"2023-10-20T05:25Z","value":-0.69},
{"series":"DSS_55_Madrid","time":"2023-10-20T09:25Z","value":-0.78},
{"series":"DSS_55_Madrid","time":"2023-10-20T07:25Z","value":-0.87},
{"series":"DSS_55_Madrid","time":"2023-10-20T05:25Z","value":-0.96},
{"series":"DSS_55_Madrid","time":"2023-10-20T09:25Z","value":-1.05},
{"series":"DSS_55_Madrid","time":"2023-10-20T07:25Z","value":-1.14},
{"series":"DSS_55_Madrid","time":"2023-10-20T05:25Z","value":-1.23},
{"series":"DSS_55_Madrid","time":"2023-10-20T09:25Z","value":-1.32},
{"series":"DSS_55_Madrid","time":"2023-10-20T07:25Z","value":-1.41},
{"series":"DSS_55_Madrid","time":"2023-10-20T05:25Z","value":-1.5},
{"series":"DSS_55_Madrid","time":"2023-10-20T09:25Z","value":-1.59},
{"series":"DSS_55_Madrid","time":"2023-10-20T07:25Z","value":-1.68},
{"series":"DSS_55_Madrid","time":"2023-10-20T05:25Z","value":-1.77},
{"series":"DSS_55_Madrid","time":"2023-10-20T09:25Z","value":-1.86},
{"series":"DSS_55_Madrid","time":"2023-10-20T07:25Z","value":-1.93},
{"series":"DSS_55_Madrid","time":"2023-10-20T07:25Z","value":-2.04},
{"series":"DSS_55_Madrid","time":"2023-10-20T07:25Z","value":-2.14},
{"series":"DSS_55_Madrid","time":"2023-10-20T07:25Z","value":-2.25},
{"series":"DSS_55_Madrid","time":"2023-10-20T07:25Z","value":-2.36},
{"series":"DSS_55_Madrid","time":"2023-10-20T07:25Z","value":-2.47},
{"series":"DSS_55_Madrid","time":"2023-10-20T07:25Z","value":-2.58},
{"series":"DSS_55_Madrid","time":"2023-10-20T07:25Z","value":-2.69},
{"series":"DSS_55_Madrid","time":"2023-10-20T07:25Z","value":-2.79},
{"series":"DSS_55_Madrid","time":"2023-10-20T07:25Z","value":-2.91},
{"series":"DSS_55_Madrid","time":"2023-10-20T07:25Z","value":-3.44},
{"series":"DSS_55_Madrid","time":"2023-10-20T07:25Z","value":-3.48},
{"series":"DSS_55_Madrid","time":"2023-10-20T07:25Z","value":-4.11},
{"series":"DSS_55_Madrid","time":"2023-10-20T07:25Z","value":-4.75},
{"series":"DSS_53_Madrid","time":"2023-10-26T02:00Z","value":1.11},
{"series":"DSS_53_Madrid","time":"2023-10-26T02:00Z","value":0.75},
{"series":"DSS_53_Madrid","time":"2023-10-26T00:00Z","value":0.67},
{"series":"DSS_53_Madrid","time":"2023-10-26T04:00Z","value":0.59},
{"series":"DSS_53_Madrid","time":"2023-10-26T02:00Z","value":0.51},
{"series":"DSS_53_Madrid","time":"2023-10-26T00:00Z","value":0.43},
{"series":"DSS_53_Madrid","time":"2023-10-26T04:00Z","value":0.35},
{"series":"DSS_53_Madrid","time":"2023-10-26T02:00Z","value":0.27},
{"series":"DSS_53_Madrid","time":"2023-10-26T00:00Z","value":0.19},
{"series":"DSS_53_Madrid","time":"2023-10-26T04:00Z","value":0.11},
{"series":"DSS_53_Madrid","time":"2023-10-26T02:00Z","value":0.03},
{"series":"DSS_53_Madrid","time":"2023-10-26T00:00Z","value":-0.05},
{"series":"DSS_53_Madrid","time":"2023-10-26T04:00Z","value":-0.13},
{"series":"DSS_53_Madrid","time":"2023-10-26T02:00Z","value":-0.19},
{"series":"DSS_53_Madrid","time":"2023-10-26T00:00Z","value":-0.23}
]
},
"resolve": {"axis": {"y": "independent"}},
"layer": [
{
"data": {"values": [{}]},
"mark": {"type": "rule", "color": "#808080", "strokeWidth": 2},
"encoding": {"y": {"datum": 0, "type": "quantitative",
"axis": {"orient": "left", "values": [-5,-4.8,-4.6,-4.4,-4.2,-4,-3.8,-3.6,-3.4,-3.2,-3,-2.8,-2.6,-2.4,-2.2,-2,-1.8,-1.6,-1.4,-1.2,-1,-0.8,-0.6,-0.4,-0.2,0,0.2,0.4,0.6,0.8,1,1.2,1.4,1.6,1.8,2,2.2,2.4,2.6,2.8,3,3.2,3.4,3.6,3.8,4,4.2,4.4,4.6,4.8,5],
"labels": false, "domain": false, "grid": false, "ticks": true, "tickSize": 4, "tickColor": "#000", "title": null}}}
},
{
"data": {"name": "sigma"},
"mark": {"type": "rule", "strokeWidth": 1.2, "color": "#000000"},
"encoding": {
"x": {"field": "time", "type": "temporal"},
"x2": {"field": "time2"},
"y": {"field": "value", "type": "quantitative", "axis": null}
}
},
{
"data": {"name": "pts"},
"mark": {"type": "point", "filled": true, "size": 28, "opacity": 1},
"encoding": {
"x": {"field": "time", "type": "temporal",
"scale": {"type": "utc", "domain": [{"year": 2023, "month": 7, "date": 4, "hours": 5, "minutes": 30, "utc": true}, {"year": 2023, "month": 10, "date": 27, "hours": 1, "utc": true}]},
"axis": {
"values": [
{"year": 2023, "month": 7, "date": 8, "utc": true},
{"year": 2023, "month": 7, "date": 15, "utc": true},
{"year": 2023, "month": 7, "date": 22, "utc": true},
{"year": 2023, "month": 8, "date": 1, "utc": true},
{"year": 2023, "month": 8, "date": 8, "utc": true},
{"year": 2023, "month": 8, "date": 15, "utc": true},
{"year": 2023, "month": 8, "date": 22, "utc": true},
{"year": 2023, "month": 9, "date": 1, "utc": true},
{"year": 2023, "month": 9, "date": 8, "utc": true},
{"year": 2023, "month": 9, "date": 15, "utc": true},
{"year": 2023, "month": 9, "date": 22, "utc": true},
{"year": 2023, "month": 10, "date": 1, "utc": true},
{"year": 2023, "month": 10, "date": 8, "utc": true},
{"year": 2023, "month": 10, "date": 15, "utc": true},
{"year": 2023, "month": 10, "date": 22, "utc": true}
],
"labelExpr": "utcdate(datum.value) == 1 ? utcFormat(datum.value, '%b') : ''",
"tickSize": {"condition": {"test": "utcdate(datum.value) == 1", "value": 7}, "value": 4},
"labelFontSize": 10, "labelFontWeight": "bold", "labelColor": "#333", "labelPadding": 3,
"labelOverlap": false, "labelFlush": false, "labelBound": false,
"domainColor": "#000", "tickColor": "#000", "grid": false,
"title": "Time (UTCG)", "titleFontSize": 15, "titleFontWeight": "normal", "titleColor": "#222",
"titleX": 601, "titleY": 29, "titleBaseline": "middle", "titleAlign": "center"
}
},
"y": {"field": "value", "type": "quantitative",
"scale": {"domain": [-5, 5], "nice": false, "zero": false},
"axis": {
"orient": "left",
"values": [-5, -4, -3, -2, -1, 0, 1, 2, 3, 4, 5],
"format": "d",
"labelExpr": "datum.value < 0 ? '-' + abs(datum.value) : '' + datum.value",
"tickSize": 6,
"labelFontSize": 10, "labelColor": "#222", "labelPadding": 2,
"labelOverlap": false, "labelFlush": false, "labelBound": false,
"domainColor": "#000", "tickColor": "#000", "grid": false,
"title": "Measurement Residual Ratio (Sigmas)", "titleFontSize": 16, "titleFontWeight": "normal", "titleColor": "#333",
"titleX": -26, "titleY": 214, "titleAngle": -90, "titleBaseline": "middle", "titleAlign": "center"
}
},
"shape": {"field": "series", "type": "nominal",
"scale": {
"domain": ["DSS_53_Madrid", "DSS_65_Madrid", "DSS_54_Madrid", "DSS_63_Madrid", "DSS_55_Madrid", "DSS_25_Goldstone", "3-Sigma", "-3-Sigma"],
"range": ["circle", "circle", "circle", "circle", "circle", "circle", "M-6.2,-0.67H6.2V0.67H-6.2Z", "M-6.2,-0.67H6.2V0.67H-6.2Z"]
}
},
"color": {"field": "series", "type": "nominal",
"scale": {
"domain": ["DSS_53_Madrid", "DSS_65_Madrid", "DSS_54_Madrid", "DSS_63_Madrid", "DSS_55_Madrid", "DSS_25_Goldstone", "3-Sigma", "-3-Sigma"],
"range": ["#ff0000", "#0a55a5", "#12a94a", "#22ee22", "#00ffff", "#5b1fb5", "#454545", "#454545"]
},
"legend": {
"orient": "none", "legendX": 150, "legendY": 450.5, "direction": "horizontal", "columns": 4, "title": null,
"columnPadding": 54, "rowPadding": -9.5, "padding": 0, "gridAlign": "each",
"symbolSize": 20, "symbolStrokeWidth": 0, "symbolOpacity": 1,
"labelFont": "Liberation Sans", "labelFontSize": 9.6, "labelColor": "#222", "labelAlign": "center", "labelBaseline": "middle", "labelLimit": 0, "labelOffset": -4.8,
"labelExpr": "['', '', (datum.value == '3-Sigma' || datum.value == '-3-Sigma') ? datum.value : 'DSNetwork.' + datum.value + ' DSN TCP Meas Residuals']"
}
}
}
},
{
"data": {"name": "man"},
"mark": {"type": "rule", "color": "#8a2be2", "strokeWidth": 1.2},
"encoding": {"x": {"field": "time", "type": "temporal"}}
},
{
"data": {"name": "man"},
"mark": {"type": "text", "align": "left", "baseline": "middle", "dx": 3, "fontSize": 7.6, "color": "#9460d8", "font": "Liberation Sans"},
"encoding": {
"x": {"field": "time", "type": "temporal"},
"y": {"datum": -4.75, "type": "quantitative", "axis": null},
"text": {"field": "name"}
}
},
{
"data": {"values": [{}]},
"mark": {"type": "text", "align": "left", "baseline": "alphabetic", "fontSize": 10.6, "color": "#111", "font": "Liberation Sans"},
"encoding": {
"x": {"datum": {"year": 2023, "month": 7, "date": 6, "hours": 3, "minutes": 10, "utc": true}, "type": "temporal"},
"y": {"datum": 4.524, "type": "quantitative", "axis": null},
"text": {"value": "Tracker: DSNetwork.DSS_53_Madrid,\u00a0 DSNetwork.DSS_65_Madrid,\u00a0 DSNetwork.DSS_54_Madrid"}
}
},
{
"data": {"values": [{}]},
"mark": {"type": "text", "align": "left", "baseline": "alphabetic", "fontSize": 10.6, "color": "#111", "font": "Liberation Sans"},
"encoding": {
"x": {"datum": {"year": 2023, "month": 7, "date": 7, "hours": 12, "minutes": 15, "utc": true}, "type": "temporal"},
"y": {"datum": 4.201, "type": "quantitative", "axis": null},
"text": {"value": "DSNetwork.DSS_63_Madrid,\u00a0 DSNetwork.DSS_55_Madrid,\u00a0 DSNetwork.DSS_25_Goldstone"}
}
},
{
"data": {"values": [{}]},
"mark": {"type": "text", "align": "left", "baseline": "alphabetic", "fontSize": 10.6, "lineHeight": 14.3, "color": "#111", "font": "Liberation Sans"},
"encoding": {
"x": {"datum": {"year": 2023, "month": 7, "date": 6, "hours": 3, "minutes": 10, "utc": true}, "type": "temporal"},
"y": {"datum": 3.891, "type": "quantitative", "axis": null},
"text": {"value": ["Satellite: BioS", "Meas. Type: DSN TCP"]}
}
},
{
"data": {"values": [{}]},
"mark": {"type": "text", "align": "left", "baseline": "alphabetic", "fontSize": 10.6, "lineHeight": 13.7, "color": "#111", "font": "Liberation Sans"},
"encoding": {
"x": {"datum": {"year": 2023, "month": 10, "date": 7, "hours": 22, "utc": true}, "type": "temporal"},
"y": {"datum": 4.543, "type": "quantitative", "axis": null},
"text": {"value": ["Time of First Data Point:", "05 Jul 2023 22:15:18.000000 UTCG"]}
}
},
{
"data": {"values": [{}]},
"mark": {"type": "text", "align": "center", "baseline": "middle", "fontSize": 10, "fontWeight": "bold", "color": "#333", "font": "Liberation Sans"},
"encoding": {
"x": {"datum": {"year": 2023, "month": 7, "date": 3, "hours": 8, "minutes": 50, "utc": true}, "type": "temporal"},
"y": {"datum": -5.683, "type": "quantitative", "axis": null},
"text": {"value": "2023"}
}
}
],
"config": {
"font": "Liberation Sans",
"view": {"stroke": "#808080", "strokeWidth": 1},
"axis": {"labelFont": "Liberation Sans", "titleFont": "Liberation Sans", "grid": false}
}
}
